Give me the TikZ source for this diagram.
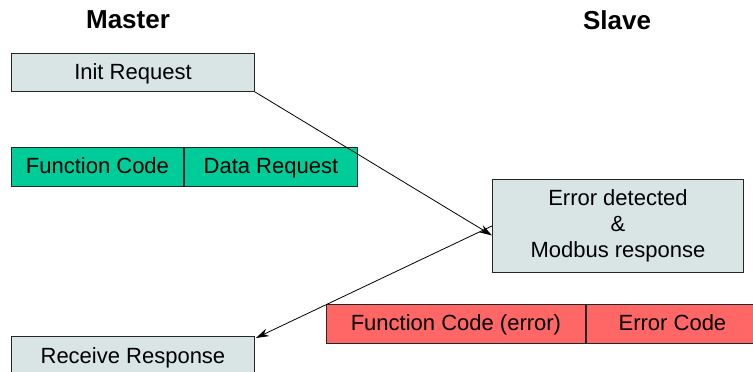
\documentclass[tikz,border=0pt]{standalone}
\usepackage{fontspec}
\setmainfont{Liberation Sans}
\usetikzlibrary{arrows.meta}
\definecolor{boxgray}{RGB}{217,229,229}
\definecolor{teal}{RGB}{0,204,153}
\definecolor{redbox}{RGB}{255,102,102}
\begin{document}
\begin{tikzpicture}[x=1pt,y=-1pt,
  box/.style={draw=black!85, line width=0.9pt, anchor=north west, inner sep=0pt,
    font=\fontsize{22}{26}\selectfont, align=center},
  onebox/.style={box, text height=16pt, text depth=2pt},
  title/.style={font=\fontsize{26}{30}\selectfont\bfseries, inner sep=0pt},
  arr/.style={-{Stealth[length=13pt,width=8pt]}, line width=0.8pt}]
\useasboundingbox (0,0) rectangle (753,372);
\clip (0,0) rectangle (753,372);
\node[title] (master) at (128,20) {Master};
\node[title] (slave) at (617,20) {Slave};
\node[onebox, fill=boxgray, minimum width=243pt, minimum height=38pt] (init) at (11,53) {Init Request};
\node[onebox, fill=teal, minimum width=172pt, minimum height=39pt] (fc) at (11,147) {Function Code};
\node[onebox, fill=teal, minimum width=173pt, minimum height=39pt] (dr) at (184,147) {Data Request};
\node[box, fill=boxgray, minimum width=251pt, minimum height=93pt] (err) at (492,179) {Error detected\\\&\\Modbus response};
\node[onebox, fill=redbox, minimum width=259pt, minimum height=39pt] (fce) at (326,304) {Function Code (error)};
\node[onebox, fill=redbox, minimum width=172pt, minimum height=39pt] (ec) at (586,304) {Error Code};
\node[onebox, fill=boxgray, minimum width=243pt, minimum height=40pt] (recv) at (11,336) {Receive Response};
\draw[arr] (init.south east) -- ([yshift=-9.5pt]err.west);
\draw[arr] (err.west) -- ([xshift=1pt,yshift=-2pt]recv.north east);
\end{tikzpicture}
\end{document}
